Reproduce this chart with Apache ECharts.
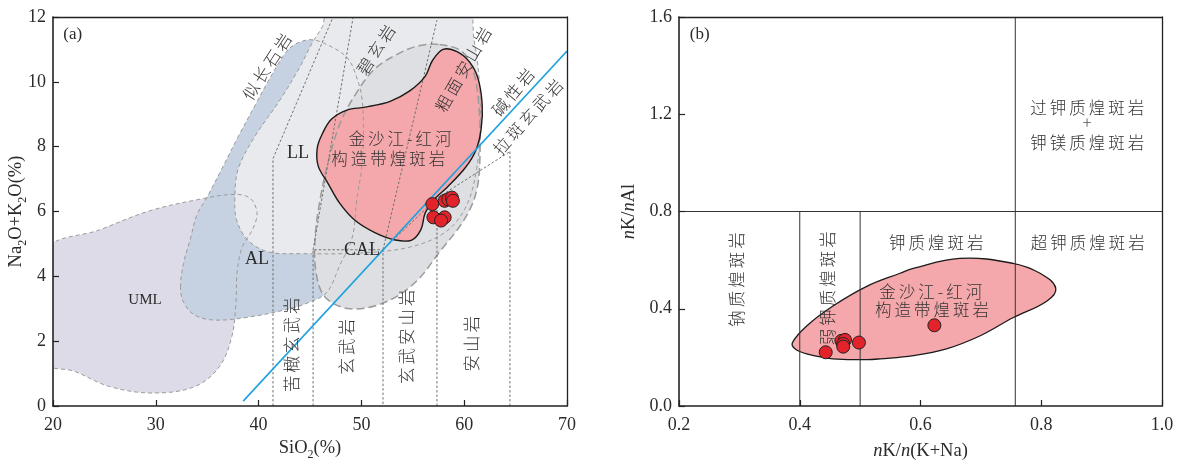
<!DOCTYPE html>
<html><head><meta charset="utf-8">
<script src="https://cdn.jsdelivr.net/npm/echarts@6/dist/echarts.min.js"></script>
<style>html,body{margin:0;padding:0;background:#fff}#c{width:1188px;height:466px}</style>
</head><body><div id="c"></div>
<script>
// ---------- Panel (a): TAS diagram ----------
const X_TICKS_A = [20, 30, 40, 50, 60, 70];
const Y_TICKS_A = [0, 2, 4, 6, 8, 10, 12];
const UML = [[19.3,4.78],[24.6,5.44],[29.4,6.02],[34.3,6.38],[37.7,6.53],[39.2,6.4],[39.85,5.95],[39.4,5.44],[38.4,4.9],[37.9,4.1],[37.8,3.2],[37.4,2.15],[36.2,1.22],[33.8,0.6],[29.7,0.4],[25.5,0.6],[22.1,1.07],[19.3,1.35]];
const AL = [[32.4,3.66],[32.7,4.4],[33.4,5.2],[34.0,5.9],[35.0,6.45],[36.4,7.3],[38.0,8.3],[39.7,9.3],[40.9,10.0],[42.0,10.6],[42.9,11.0],[43.8,11.2],[45.0,11.3],[46.3,11.2],[48.6,10.75],[49.6,10.08],[50.06,9.47],[50.2,8.46],[50.06,7.42],[49.57,6.41],[49.1,5.19],[47.9,4.34],[46.65,3.51],[45.0,3.21],[43.0,3.0],[39.2,2.75],[35.8,2.65],[33.8,2.8],[32.7,3.2]];
const LL = [[47.0,12.4],[60.1,12.4],[60.95,11.3],[61.45,10.1],[61.55,8.55],[61.15,7.2],[60.1,6.1],[58.1,5.35],[54.7,4.9],[49.9,4.72],[44.0,4.7],[41.0,4.75],[39.0,5.1],[37.85,5.75],[37.7,6.5],[38.0,7.3],[39.5,8.25],[42.1,9.45],[44.0,10.45],[45.3,11.25],[46.2,11.7]];
const CAL = [[57.6,11.15],[59.8,10.93],[60.95,10.25],[61.45,9.15],[61.55,7.95],[61.25,6.7],[60.1,5.8],[57.6,4.75],[55.2,3.8],[52.3,3.2],[48.9,3.0],[46.5,3.35],[45.6,4.1],[45.5,5.2],[46.0,6.4],[46.75,7.5],[47.9,8.7],[49.4,9.6],[51.3,10.4],[53.8,10.9],[55.7,11.12]];
const ZONE_A = [[57.95,11.0],[59.3,10.93],[60.55,10.6],[61.35,10.1],[61.75,9.3],[61.65,8.55],[61.15,7.9],[60.1,7.35],[58.35,6.75],[57.0,6.35],[56.2,5.95],[55.8,5.45],[54.9,5.12],[53.3,5.12],[51.3,5.35],[49.4,5.72],[47.9,6.25],[46.75,6.87],[45.8,7.4],[45.7,7.95],[46.2,8.4],[47.1,8.85],[48.6,9.13],[50.4,9.22],[52.8,9.4],[54.7,9.72],[56.2,10.17],[56.9,10.65]];
const TAS_LINES = [
  [[41.4,0],[41.4,7.63],[47.24,12]],
  [[45.3,0],[45.3,4.82],[52.1,4.82],[52.1,0]],
  [[45.3,4.82],[49.2,12]],
  [[52.1,4.82],[57.35,11.9]],
  [[57.35,0],[57.35,6.41]],
  [[52.1,4.82],[57.35,6.41],[64.45,7.85]],
  [[64.45,0],[64.45,7.85]]
];
const ALKALINE_LINE = [[38.5,0.15],[70,10.95]];
const SIO2 = [56.9, 58.1, 58.45, 58.8, 58.9, 57.0, 58.1, 57.75];
const ALK  = [6.23, 6.33, 6.38, 6.43, 6.33, 5.82, 5.82, 5.72];
// [x, y, text, rotation(deg), kind]
const LABELS_A = [
  [21.0, 11.45, '(a)', 0, 'latinL'],
  [40.8, 10.47, '似长石岩', 57, 'cjk'],
  [51.4, 10.99, '碧玄岩', 57, 'cjk'],
  [59.9, 10.38, '粗面安山岩', 60, 'cjk'],
  [64.75, 9.68, '碱性岩', 50, 'cjk'],
  [66.2, 8.92, '拉斑玄武岩', 48, 'cjk'],
  [53.76, 8.24, '金沙江-红河', 0, 'cjk'],
  [52.6, 7.63, '构造带煌斑岩', 0, 'cjk'],
  [43.83, 7.79, 'LL', 0, 'latin'],
  [39.85, 4.52, 'AL', 0, 'latin'],
  [50.06, 4.79, 'CAL', 0, 'latin'],
  [28.95, 3.27, 'UML', 0, 'latinS'],
  [43.25, 1.89, '苦橄玄武岩', 90, 'cjk'],
  [48.6, 1.83, '玄武岩', 90, 'cjk'],
  [54.44, 2.14, '玄武安山岩', 90, 'cjk'],
  [60.76, 1.92, '安山岩', 90, 'cjk']
];
// ---------- Panel (b) ----------
const X_TICKS_B = [0.2, 0.4, 0.6, 0.8, 1.0];
const Y_TICKS_B = [0.0, 0.4, 0.8, 1.2, 1.6];
const ZONE_B = [[0.388,0.261],[0.4115,0.329],[0.455,0.411],[0.511,0.492],[0.566,0.546],[0.588,0.566],[0.665,0.607],[0.753,0.587],[0.798,0.546],[0.824,0.485],[0.809,0.431],[0.753,0.363],[0.699,0.289],[0.643,0.235],[0.588,0.207],[0.533,0.194],[0.511,0.191],[0.455,0.194],[0.4115,0.214],[0.392,0.235]];
const LINES_B = [[[0.4,0],[0.4,0.8]], [[0.5,0],[0.5,0.8]], [[0.757,0],[0.757,1.6]], [[0.2,0.8],[1.0,0.8]]];
const KKNA = [0.443, 0.469, 0.475, 0.472, 0.472, 0.498, 0.623];
const KAL  = [0.221, 0.268, 0.272, 0.255, 0.244, 0.261, 0.332];
const LABELS_B = [
  [0.218, 1.528, '(b)', 0, 'latinL'],
  [0.296, 0.52, '钠质煌斑岩', 90, 'cjk'],
  [0.447, 0.484, '弱钾质煌斑岩', 90, 'cjk'],
  [0.626, 0.671, '钾质煌斑岩', 0, 'cjk'],
  [0.877, 0.671, '超钾质煌斑岩', 0, 'cjk'],
  [0.876, 1.228, '过钾质煌斑岩', 0, 'cjk'],
  [0.876, 1.167, '+', 0, 'plus'],
  [0.876, 1.081, '钾镁质煌斑岩', 0, 'cjk'],
  [0.617, 0.472, '金沙江-红河', 0, 'cjk'],
  [0.619, 0.394, '构造带煌斑岩', 0, 'cjk']
];

const SERIF = '"Liberation Serif","Times New Roman",serif';
const CJK = '"Noto Sans CJK SC",sans-serif';
const TXT = '#2b2b2b';

function shape(g, pts, closed, style, z, smooth) {
  return {
    type: 'custom', xAxisIndex: g, yAxisIndex: g, clip: true, silent: true, z: z,
    data: [[pts[0][0], pts[0][1]]],
    renderItem: function (params, api) {
      return {
        type: closed ? 'polygon' : 'polyline',
        shape: { points: pts.map(function (p) { return api.coord(p); }), smooth: smooth || 0 },
        style: style
      };
    }
  };
}
function spaced(t) {
  return t.split('').map(function (c) { return '{c|' + c + '}'; }).join('');
}
function labels(g, arr) {
  const styles = {
    latin: { font: '18px ' + SERIF, fill: TXT },
    latinS: { font: '15px ' + SERIF, fill: TXT },
    latinL: { font: '17px ' + SERIF, fill: TXT },
    plus: { font: '300 17px ' + CJK, fill: '#555' }
  };
  const cjkRich = { c: { fontFamily: CJK, fontSize: 16.5, fontWeight: 300, color: '#333', padding: [0, 1.5, 0, 1.5] } };
  return {
    type: 'custom', xAxisIndex: g, yAxisIndex: g, silent: true, z: 20,
    data: arr.map(function (l, i) { return [l[0], l[1], i]; }),
    encode: { x: 0, y: 1 },
    renderItem: function (params, api) {
      const l = arr[params.dataIndex];
      const p = api.coord([l[0], l[1]]);
      const st = { x: 0, y: 0, align: l[4] === 'latinL' ? 'left' : 'center', verticalAlign: 'middle' };
      if (l[4] === 'cjk') {
        st.text = spaced(l[2]); st.rich = cjkRich; st.font = '16.5px ' + CJK; st.fill = '#333';
      } else {
        st.text = l[2]; st.font = styles[l[4]].font; st.fill = styles[l[4]].fill;
      }
      return { type: 'text', x: p[0], y: p[1], rotation: l[3] * Math.PI / 180, style: st };
    }
  };
}

const dashThin = { fill: 'none', stroke: '#9b9b9b', lineWidth: 1, lineDash: [4, 3] };
const dashCal = { fill: 'none', stroke: '#9b9b9b', lineWidth: 1.5, lineDash: [8, 4] };
const dotTas = { fill: 'none', stroke: '#707070', lineWidth: 1, lineDash: [2.5, 2] };

const series = [];
series.push(shape(0, UML, true, { fill: '#dcdbe7', stroke: 'none' }, 1, 0.35));
series.push(shape(0, AL, true, { fill: '#c6d1e1', stroke: 'none' }, 2, 0.35));
series.push(shape(0, LL, true, { fill: '#e9eaed', stroke: 'none' }, 3, 0.35));
series.push(shape(0, CAL, true, { fill: '#dedfe2', stroke: 'none' }, 4, 0.35));
series.push(shape(0, ZONE_A, true, { fill: '#f5a8ab', stroke: 'none' }, 5, 0.35));
series.push(shape(0, UML, true, dashThin, 6, 0.35));
series.push(shape(0, AL, true, dashThin, 6, 0.35));
series.push(shape(0, LL, true, dashThin, 6, 0.35));
series.push(shape(0, CAL, true, dashCal, 6, 0.35));
TAS_LINES.forEach(function (l) { series.push(shape(0, l, false, dotTas, 6, 0)); });
series.push(shape(0, ZONE_A, true, { fill: 'none', stroke: '#1a1a1a', lineWidth: 1.4 }, 7, 0.35));
series.push(shape(0, ALKALINE_LINE, false, { fill: 'none', stroke: '#1fa2dd', lineWidth: 1.6 }, 7, 0));
series.push(labels(0, LABELS_A));
series.push({
  type: 'scatter', xAxisIndex: 0, yAxisIndex: 0, z: 30, symbolSize: 13,
  itemStyle: { color: '#e3232b', borderColor: '#222', borderWidth: 1, opacity: 1 },
  data: SIO2.map(function (x, i) { return [x, ALK[i]]; })
});
series.push(shape(1, ZONE_B, true, { fill: '#f5a8ab', stroke: '#1a1a1a', lineWidth: 1.3 }, 3, 0.4));
LINES_B.forEach(function (l) { series.push(shape(1, l, false, { fill: 'none', stroke: '#333', lineWidth: 1 }, 4, 0)); });
series.push(labels(1, LABELS_B));
series.push({
  type: 'scatter', xAxisIndex: 1, yAxisIndex: 1, z: 30, symbolSize: 13,
  itemStyle: { color: '#e3232b', borderColor: '#222', borderWidth: 1, opacity: 1 },
  data: KKNA.map(function (x, i) { return [x, KAL[i]]; })
});

const axisLine = { show: true, lineStyle: { color: '#222', width: 1.6 } };
const tickLab = { fontFamily: SERIF, fontSize: 18, color: TXT };
const nameRich = {
  n: { fontFamily: SERIF, fontSize: 18.5, color: TXT, lineHeight: 22, verticalAlign: 'bottom' },
  s: { fontFamily: SERIF, fontSize: 12, color: TXT, lineHeight: 22, verticalAlign: 'bottom', padding: [0, 0, -3, 0] },
  i: { fontFamily: SERIF, fontSize: 18.5, color: TXT, fontStyle: 'italic', lineHeight: 22, verticalAlign: 'bottom' }
};
function mainX(g, ticks, name, gap, fmt) {
  return { type: 'value', gridIndex: g, min: ticks[0], max: ticks[ticks.length - 1], interval: ticks[1] - ticks[0],
    z: 10, axisLine: axisLine, splitLine: { show: false },
    axisTick: { show: true, inside: true, length: 6, lineStyle: { color: '#222', width: 1.2 } },
    axisLabel: Object.assign({ margin: 10, formatter: fmt }, tickLab),
    name: name, nameLocation: 'middle', nameGap: gap, nameMoveOverlap: false, nameTextStyle: { rich: nameRich } };
}
function mainY(g, ticks, name, gap, fmt) {
  return { type: 'value', gridIndex: g, min: ticks[0], max: ticks[ticks.length - 1], interval: ticks[1] - ticks[0],
    z: 10, axisLine: axisLine, splitLine: { show: false },
    axisTick: { show: true, inside: true, length: 6, lineStyle: { color: '#222', width: 1.2 } },
    axisLabel: Object.assign({ margin: 7, formatter: fmt }, tickLab),
    name: name, nameLocation: 'middle', nameGap: gap, nameRotate: 90, nameMoveOverlap: false, nameTextStyle: { rich: nameRich } };
}
function frame(g, ticks, pos) {
  return { type: 'value', gridIndex: g, position: pos, min: ticks[0], max: ticks[ticks.length - 1], z: 10,
    axisLine: { show: true, onZero: false, lineStyle: { color: '#222', width: 1.3 } },
    axisTick: { show: false }, axisLabel: { show: false }, splitLine: { show: false } };
}
const f1 = function (v) { return v.toFixed(1); };

const option = {
  animation: false,
  backgroundColor: '#fff',
  grid: [
    { left: 53, right: 621, top: 17, bottom: 55 },
    { left: 679, right: 26, top: 17, bottom: 55 }
  ],
  xAxis: [
    mainX(0, X_TICKS_A, '{n|SiO}{s|2}{n|(%)}', 30),
    mainX(1, X_TICKS_B, '{i|n}{n|K/}{i|n}{n|(K+Na)}', 33, f1),
    frame(0, X_TICKS_A, 'top'), frame(1, X_TICKS_B, 'top')
  ],
  yAxis: [
    mainY(0, Y_TICKS_A, '{n|Na}{s|2}{n|O+K}{s|2}{n|O(%)}', 27),
    mainY(1, Y_TICKS_B, '{i|n}{n|K/}{i|n}{n|Al}', 40, f1),
    frame(0, Y_TICKS_A, 'right'), frame(1, Y_TICKS_B, 'right')
  ],
  series: series
};
echarts.init(document.getElementById('c')).setOption(option);
</script></body></html>
